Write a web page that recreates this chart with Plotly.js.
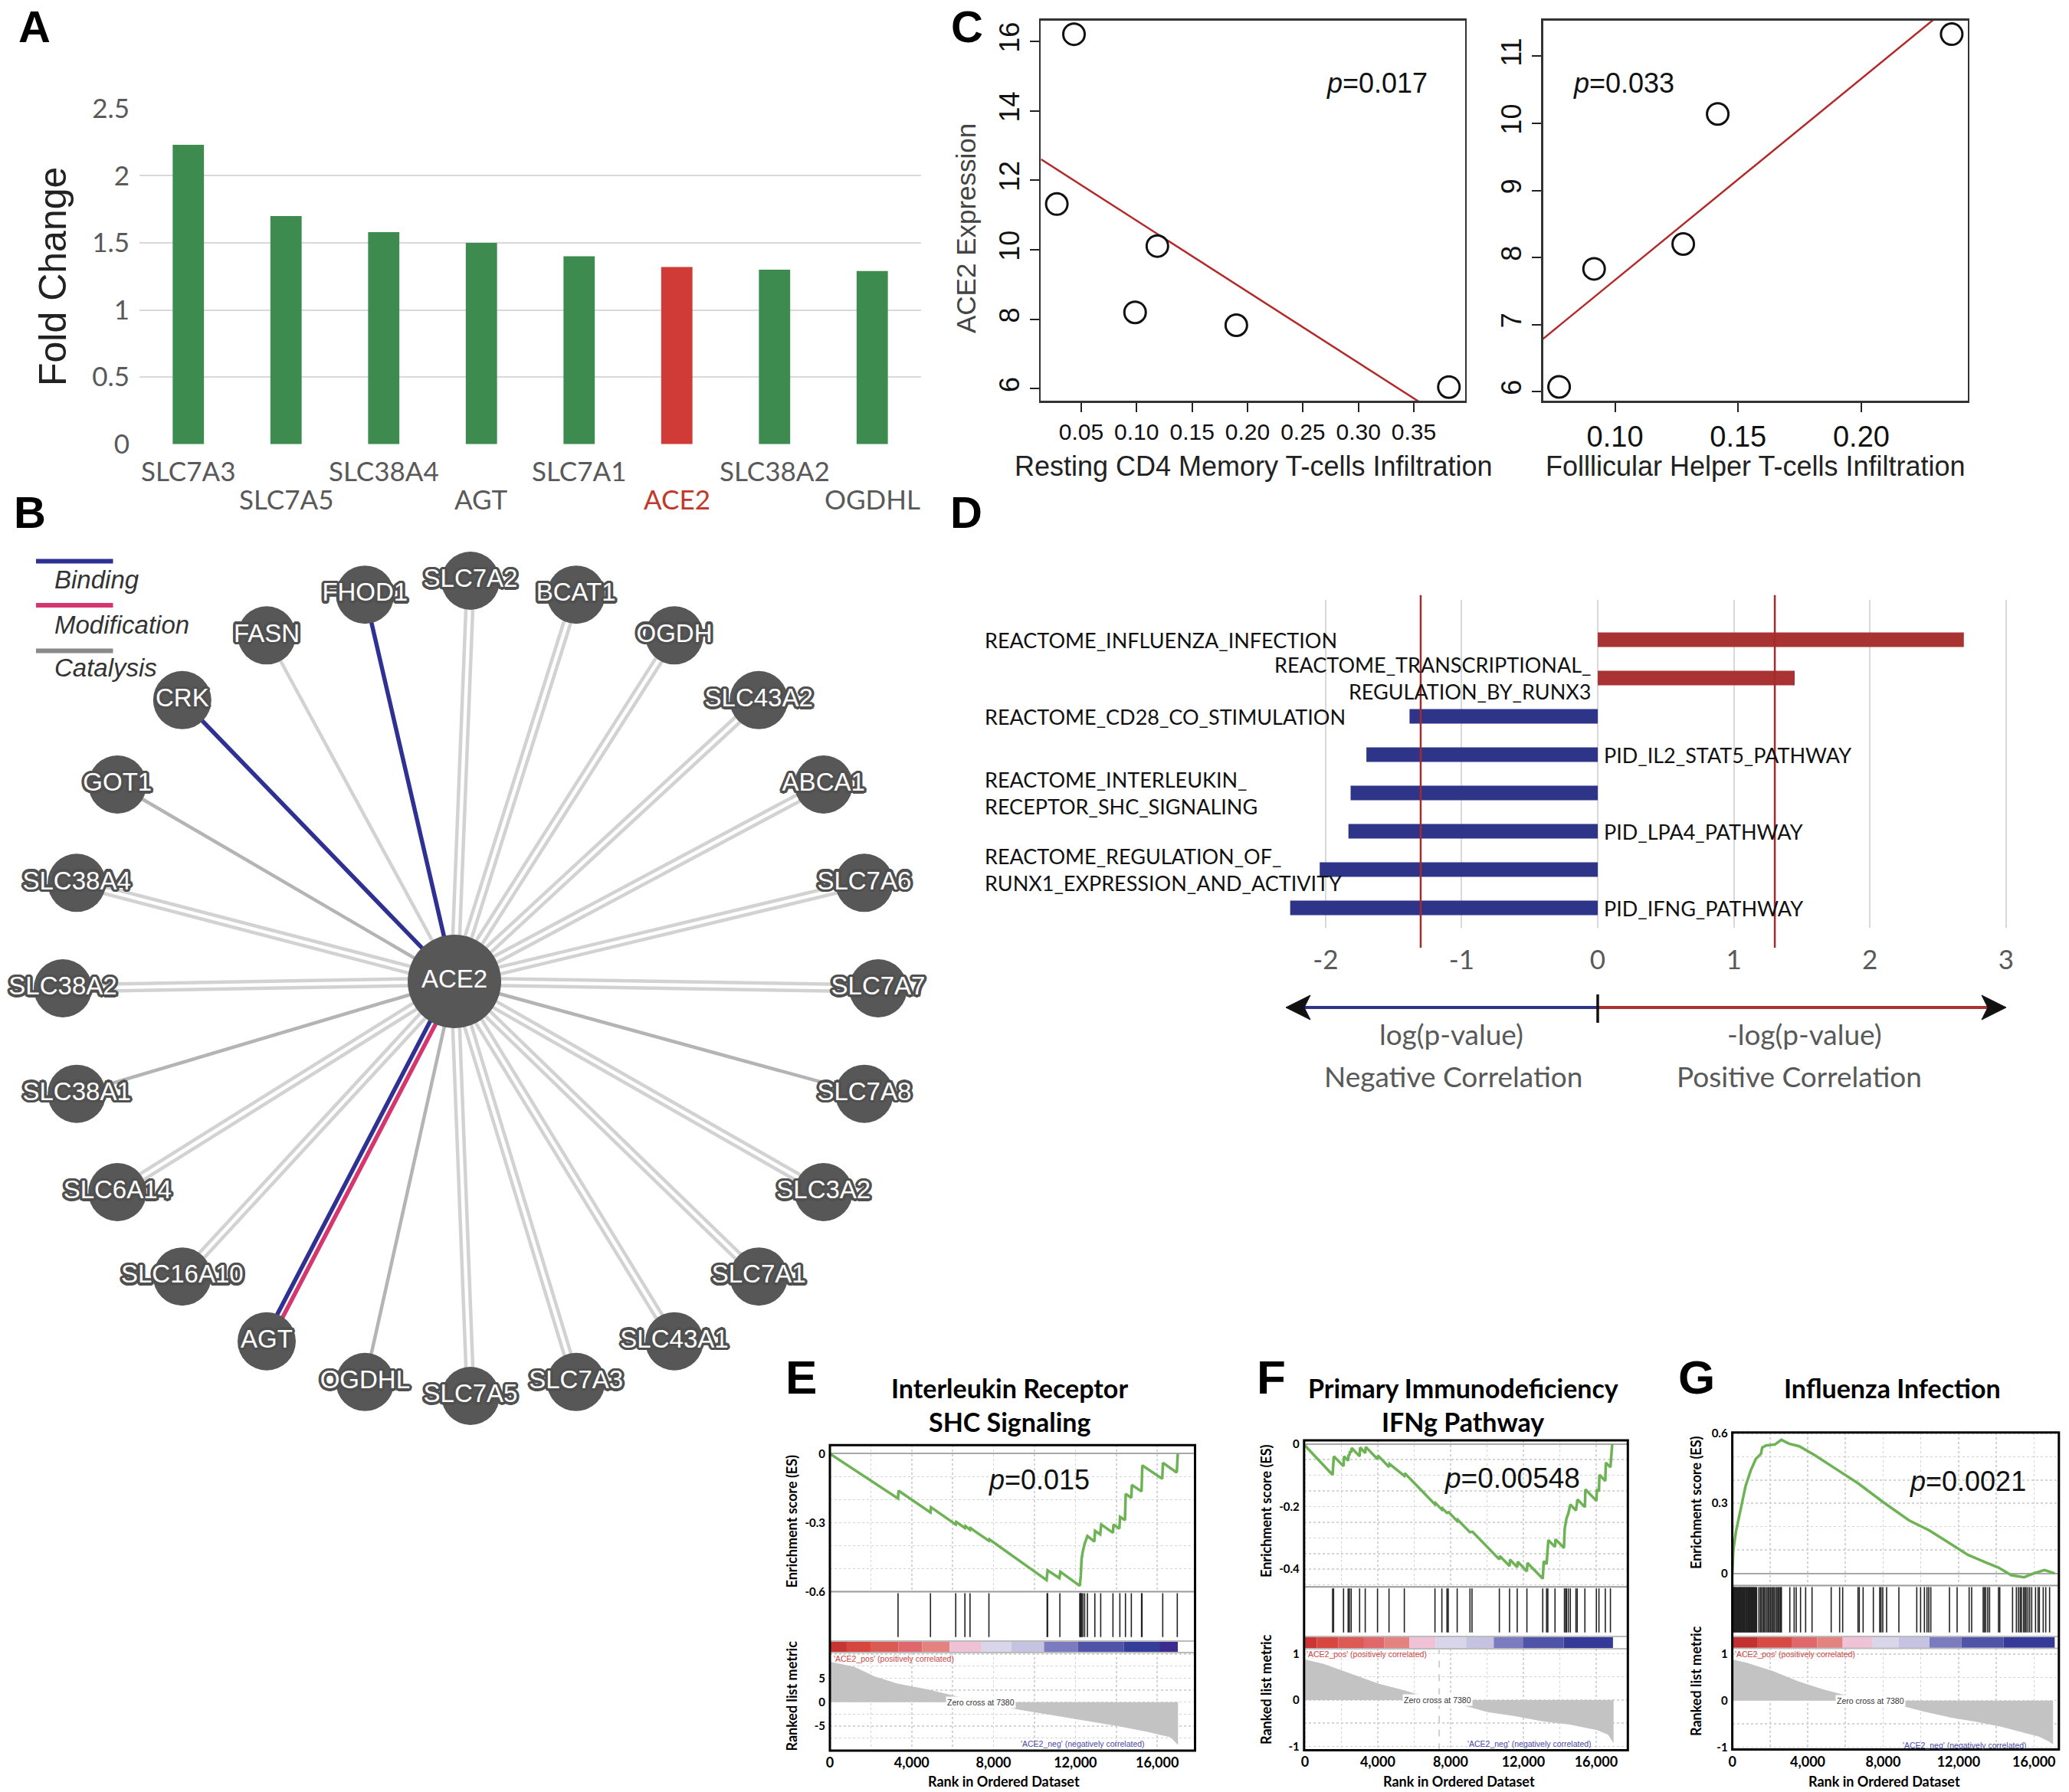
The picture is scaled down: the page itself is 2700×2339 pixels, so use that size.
<!DOCTYPE html>
<html><head><meta charset="utf-8">
<script src="https://cdn.plot.ly/plotly-3.0.1.min.js"></script>
<style>html,body{margin:0;padding:0;background:#fff;}#fig{width:2700px;height:2339px;}</style>
</head><body><div id="fig"></div>
<script>
// ================= DATA =================
// Panel A
const genesA = ['SLC7A3','SLC7A5','SLC38A4','AGT','SLC7A1','ACE2','SLC38A2','OGDHL'];
const foldChange = [2.23,1.70,1.58,1.50,1.40,1.32,1.30,1.29];
const aYTicks = [0,0.5,1,1.5,2,2.5];
const aYTickText = ['0','0.5','1','1.5','2','2.5'];

// Panel B (network)
const netHub = 'ACE2';
const netNodes = ['SLC7A7','SLC7A6','ABCA1','SLC43A2','OGDH','BCAT1','SLC7A2','FHOD1','FASN','CRK','GOT1','SLC38A4',
                  'SLC38A2','SLC38A1','SLC6A14','SLC16A10','AGT','OGDHL','SLC7A5','SLC7A3','SLC43A1','SLC7A1','SLC3A2','SLC7A8'];
// cc = two catalysis edges, c1 = one light edge, c2 = one darker edge, b = binding, bm = binding + modification
const netEdgeType = ['cc','cc','cc','cc','cc','cc','cc','b','c1','b','c2','cc',
                     'cc','c2','cc','cc','bm','c2','cc','cc','cc','cc','cc','c2'];
const netLegend = ['Binding','Modification','Catalysis'];

// Panel C
const restingCD4 = [0.0435,0.028,0.1187,0.0986,0.1899,0.3816];
const ace2ExprC1 = [16.21,11.32,10.11,8.20,7.83,6.05];
const follicularTfh = [0.0773,0.0915,0.1277,0.1417,0.2367];
const ace2ExprC2 = [6.07,7.83,8.20,10.14,11.33];
const c1XTicks = [0.05,0.10,0.15,0.20,0.25,0.30,0.35];
const c1YTicks = [6,8,10,12,14,16];
const c2XTicks = [0.10,0.15,0.20];
const c2YTicks = [6,7,8,9,10,11];
const pValC = ['0.017','0.033'];

// Panel D
const pathwayLabels = ['REACTOME_INFLUENZA_INFECTION','REACTOME_TRANSCRIPTIONAL_<br>REGULATION_BY_RUNX3',
  'REACTOME_CD28_CO_STIMULATION','PID_IL2_STAT5_PATHWAY','REACTOME_INTERLEUKIN_<br>RECEPTOR_SHC_SIGNALING',
  'PID_LPA4_PATHWAY','REACTOME_REGULATION_OF_<br>RUNX1_EXPRESSION_AND_ACTIVITY','PID_IFNG_PATHWAY'];
const logP = [2.69,1.447,-1.383,-1.70,-1.816,-1.832,-2.043,-2.26];
const dXTicks = [-2,-1,0,1,2,3];
const dXTickText = ['-2','-1','0','1','2','3'];
const pThreshold = 0.05;

// GSEA common
const zeroCross = 7380;

// Panel E
const esRankE = [0,3331,3356,4916,4941,6151,6176,6600,6625,6850,6875,7773,7798,10593,10643,11217,11266,12215,12265,12302,12364,12452,12589,12926,12963,13213,13263,13837,13862,14149,14186,14423,14460,14735,14760,15234,15271,16245,16282,16956,17006];
const esValE = [0,-0.195,-0.161,-0.256,-0.233,-0.308,-0.297,-0.323,-0.315,-0.331,-0.324,-0.379,-0.373,-0.550,-0.508,-0.541,-0.514,-0.575,-0.530,-0.458,-0.425,-0.392,-0.358,-0.382,-0.336,-0.351,-0.308,-0.344,-0.308,-0.326,-0.275,-0.289,-0.175,-0.192,-0.136,-0.164,-0.051,-0.109,-0.040,-0.082,0];
const hitsE = [3331,4916,6151,6600,6850,7773,10618,10643,11242,12215,12240,12265,12302,12364,12452,12589,12951,13238,13837,14174,14448,14735,15234,15259,16270,16981];
const segE = [0,823,1984,3356,4504,5852,7411,8871,10468,12115,14361,16108,17006];
const metRankE = [0,1189,2193,3338,4770,6202,7377,9067,11216,12648,14081,15513,16659,17017];
const metValE = [8.4,7.35,5.3,3.82,2.65,1.18,0,-1.47,-2.94,-4.0,-5.0,-6.18,-7.35,-8.94];

// Panel F
const esRankF = [0,1520,1590,2123,2151,2376,2404,2446,2474,2544,2572,3007,3035,3316,3344,3990,4018,4621,4649,5463,5491,7147,7175,7526,7554,7807,7905,8368,8396,9070,9210,10684,10712,11245,11273,11666,11694,12199,12227,13069,13126,13280,13378,13743,13771,14234,14276,14374,14473,14585,14894,14978,15385,15413,16016,16044,16157,16185,16507,16536,16788,16886];
const esValF = [-0.005,-0.0986,-0.0394,-0.0710,-0.0394,-0.0532,-0.0337,-0.0370,-0.0232,-0.0272,-0.0127,-0.0394,-0.0110,-0.0289,-0.0094,-0.0483,-0.0370,-0.0735,-0.0637,-0.1019,-0.0937,-0.1927,-0.1886,-0.2097,-0.2057,-0.2203,-0.2178,-0.2462,-0.2422,-0.2819,-0.2803,-0.3687,-0.3581,-0.3898,-0.3695,-0.3938,-0.3760,-0.4068,-0.3800,-0.4303,-0.3744,-0.3841,-0.3070,-0.3289,-0.3046,-0.3322,-0.2705,-0.2381,-0.2219,-0.1935,-0.2122,-0.1773,-0.2016,-0.1448,-0.1813,-0.1448,-0.1513,-0.0986,-0.1181,-0.0597,-0.0743,0];
const hitsF = [1520,1576,2123,2376,2446,2544,3007,3316,3990,4621,5463,7147,7526,7807,7877,8368,9070,9182,10684,11245,11666,12199,13069,13280,13350,13743,14262,14332,14374,14473,14585,14894,14964,15385,16016,16157,16507,16788];
const segF = [0,650,1843,3246,4369,5744,7175,8859,10375,11975,14220,16928];
const metRankF = [0,1023,2526,4030,5534,6286,7383,8541,10045,11549,13053,14556,16060,16662,16962];
const metValF = [0.875,0.78,0.57,0.355,0.2,0.11,0,-0.10,-0.26,-0.35,-0.46,-0.53,-0.65,-0.75,-0.93];

// Panel G
const esRankG = [0,57,192,368,504,707,978,1249,1520,1588,1791,2265,2604,3010,3552,4365,5313,6668,8022,9377,10461,11409,12493,13441,14118,14796,15473,16015,16557,17099];
const esValG = [0,0.1015,0.178,0.244,0.2875,0.375,0.4407,0.490,0.5118,0.539,0.548,0.552,0.572,0.5555,0.5446,0.5063,0.457,0.386,0.304,0.227,0.1836,0.134,0.0797,0.0468,0.025,-0.0079,-0.0166,0.0009,0.014,0];
const hitsG = [30,62,95,118,150,190,232,280,330,362,401,436,470,512,560,601,634,668,715,757,795,840,884,921,960,1002,1041,1090,1125,1163,1210,1251,1290,1412,1493,1547,1628,1682,1750,1832,1899,1967,2035,2103,2170,2224,2306,2374,2441,2495,2563,2604,3051,3281,3390,3620,3890,4229,5245,5693,5855,6668,6735,6939,7481,7819,7887,7982,8185,8835,9784,9987,10190,10326,10421,10529,11518,11924,12561,12696,13306,13373,13441,13549,13645,14119,14186,14864,15067,15175,15270,15338,15446,15514,15582,15677,15772,15880,16083,16219,16287,16490,16625,16828];
const segG = [0,1317,3146,4500,5855,7413,8835,10461,12154,14390,17099];
const metRankG = [0,768,2116,3464,4812,6160,7373,8856,10204,11552,12900,14248,15596,16270,16810,17012];
const metValG = [0.88,0.81,0.64,0.42,0.24,0.10,0,-0.10,-0.24,-0.36,-0.45,-0.56,-0.70,-0.77,-0.88,-0.94];

// ================= STYLES =================
const segColE = ['#c63434','#d6463f','#dc5a54','#e0686c','#e4827f','#efc1d4','#d9d6ec','#c5c2e2','#7a7cbf','#5054a8','#353d9b','#3b2b8e'];
const segColF = ['#cc3535','#d84640','#dc5a55','#e0686b','#e4827f','#f0c2d5','#d9d6ec','#c5c2e2','#7a7cbf','#5054a8','#353a98'];
const segColG = ['#c43030','#d84a44','#e0686a','#e48280','#f0c2d5','#d9d6ec','#c5c2e2','#7a7cbf','#5054a8','#353a98'];

const W = 2700, H = 2339;
const px = v => v / W;
const py = v => 1 - v / H;
const domX = (a, b) => [a / W, b / W];
const domY = (top, bot) => [1 - bot / H, 1 - top / H];
const F_ARIAL = 'Liberation Sans, Arial, Helvetica, sans-serif';
const F_LATO = 'Lato, Open Sans, sans-serif';

const traces = [], annotations = [], shapes = [];
const layout = {width: W, height: H, margin: {l:0, r:0, t:0, b:0}, paper_bgcolor: '#fff', plot_bgcolor: 'rgba(0,0,0,0)',
  showlegend: false, hovermode: false, annotations, shapes};
let nAx = 0;
function addAxes(xa, ya) {
  nAx++; const s = nAx === 1 ? '' : String(nAx);
  xa.anchor = 'y' + s; ya.anchor = 'x' + s;
  layout['xaxis' + s] = xa; layout['yaxis' + s] = ya;
  return {x: 'x' + s, y: 'y' + s};
}
function txt(text, x, y, font, opts) {
  annotations.push(Object.assign({text, x: px(x), y: py(y), xref: 'paper', yref: 'paper', showarrow: false,
    xanchor: 'center', yanchor: 'middle', font}, opts || {}));
}
function pline(x0, y0, x1, y1, color, width, dash) {
  shapes.push({type: 'line', xref: 'paper', yref: 'paper', x0: px(x0), y0: py(y0), x1: px(x1), y1: py(y1),
    line: {color, width, dash: dash || 'solid'}});
}
function ppath(pts, color) {
  shapes.push({type: 'path', xref: 'paper', yref: 'paper',
    path: 'M ' + pts.map(p => px(p[0]) + ',' + py(p[1])).join(' L ') + ' Z', fillcolor: color, line: {color, width: 1}});
}
const letterFont = {family: F_ARIAL, size: 58, color: '#000', weight: 700};

// ================= PANEL A =================
txt('A', 45, 34, letterFont);
const axA = addAxes(
  {domain: domX(182, 1202), type: 'category', range: [-0.5, 7.5], showticklabels: false, showgrid: false, zeroline: false, showline: false, fixedrange: true},
  {domain: domY(141.8, 579.8), range: [0, 2.5], tickvals: aYTicks, ticktext: aYTickText, showgrid: true, gridcolor: '#d9d9d9', gridwidth: 2,
   zeroline: false, ticks: '', showline: false, tickfont: {family: F_LATO, size: 35, color: '#595959'}, ticklabelstandoff: 12, fixedrange: true});
traces.push({type: 'bar', x: genesA, y: foldChange, xaxis: axA.x, yaxis: axA.y, width: 0.32,
  marker: {color: genesA.map(g => g === netHub ? '#d13b37' : '#3e8b50'), line: {width: 0}}});
genesA.forEach((g, i) => annotations.push({text: g, x: g, y: py(i % 2 === 0 ? 613.6 : 650.5), xref: axA.x, yref: 'paper',
  showarrow: false, xanchor: 'center', yanchor: 'middle', font: {family: F_LATO, size: 35, color: g === netHub ? '#c0392b' : '#595959'}}));
txt('Fold Change', 69, 361, {family: F_ARIAL, size: 50, color: '#222'}, {textangle: -90});

// ================= PANEL B =================
txt('B', 39, 668, letterFont);
const axB = addAxes({domain: domX(0, 1230), range: [0, 1230], visible: false, fixedrange: true},
                    {domain: domY(700, 1880), range: [1880, 700], visible: false, fixedrange: true});
const ringCx = 614, ringCy = 1290, ringR = 532, hubX = 593, hubY = 1281;
const nodePos = netNodes.map((n, i) => {
  const a = i * 2 * Math.PI / netNodes.length;
  return [ringCx + ringR * Math.cos(a), ringCy - ringR * Math.sin(a)];
});
const edgeXY = {light: {x: [], y: []}, dark: {x: [], y: []}, bind: {x: [], y: []}, mod: {x: [], y: []}};
function addEdge(style, p, off) {
  const dx = p[0] - hubX, dy = p[1] - hubY, L = Math.hypot(dx, dy);
  const nx = -dy / L, ny = dx / L, e = edgeXY[style];
  e.x.push(hubX + nx * off, p[0] + nx * off, null);
  e.y.push(hubY + ny * off, p[1] + ny * off, null);
}
netEdgeType.forEach((t, i) => {
  const p = nodePos[i];
  if (t === 'cc') { addEdge('light', p, -4.5); addEdge('light', p, 4.5); }
  else if (t === 'c1') addEdge('light', p, 0);
  else if (t === 'c2') addEdge('dark', p, 0);
  else if (t === 'b') addEdge('bind', p, 0);
  else if (t === 'bm') { addEdge('bind', p, 4); addEdge('mod', p, -4); }
});
const edgeStyle = {light: ['#d2d2d2', 4.5], dark: ['#b4b4b4', 4.5], mod: ['#d6366f', 5.5], bind: ['#2e3192', 5.5]};
['light', 'dark', 'mod', 'bind'].forEach(k => traces.push({type: 'scatter', mode: 'lines', x: edgeXY[k].x, y: edgeXY[k].y,
  xaxis: axB.x, yaxis: axB.y, line: {color: edgeStyle[k][0], width: edgeStyle[k][1]}}));
const halo = '#505050';
const offs = [];
for (let k = 0; k < 16; k++) { const a = k * Math.PI / 8; offs.push([Math.round(3.5 * Math.cos(a) * 10) / 10, Math.round(3.5 * Math.sin(a) * 10) / 10]); }
const shadowStr = offs.map(o => o[0] + 'px ' + o[1] + 'px 0 ' + halo).join(', ');
// hub node (no halo on label)
traces.push({type: 'scatter', mode: 'markers+text', xaxis: axB.x, yaxis: axB.y, x: [hubX], y: [hubY], text: [netHub],
  textposition: 'middle center', cliponaxis: false, textfont: {family: F_ARIAL, size: 33, color: '#ffffff'},
  marker: {size: 122, color: '#575757', opacity: 1, line: {width: 0}}});
// ring nodes
traces.push({type: 'scatter', mode: 'markers+text', xaxis: axB.x, yaxis: axB.y,
  x: nodePos.map(p => p[0]), y: nodePos.map(p => p[1]),
  text: netNodes, textposition: 'middle center', cliponaxis: false,
  textfont: {family: F_ARIAL, size: 33, color: '#ffffff', shadow: shadowStr},
  marker: {size: 76, color: '#575757', opacity: 1, line: {width: 0}}});
// legend
const legColors = ['#2e3192', '#d6366f', '#8a8a8a'];
const legLineY = [732.5, 790, 849.6], legTextY = [756, 815.6, 871.7];
netLegend.forEach((l, i) => {
  pline(47, legLineY[i], 147.5, legLineY[i], legColors[i], 6);
  txt(l, 69, legTextY[i], {family: F_ARIAL, size: 33, color: '#333', style: 'italic'}, {xanchor: 'left'});
});

// ================= PANEL C =================
txt('C', 1262, 35, letterFont);
function linfit(x, y) {
  const n = x.length, mx = x.reduce((a, b) => a + b) / n, my = y.reduce((a, b) => a + b) / n;
  let sxy = 0, sxx = 0;
  x.forEach((v, i) => { sxy += (v - mx) * (y[i] - my); sxx += (v - mx) * (v - mx); });
  const b = sxy / sxx; return {a: my - b * mx, b};
}
function cAxes(xd, xr, xt, xfs, yr, yt) {
  const common = {ticks: 'outside', ticklen: 12, tickwidth: 2, tickcolor: '#222', showline: true, mirror: true,
    linecolor: '#333', linewidth: 2.5, showgrid: false, zeroline: false, fixedrange: true};
  return addAxes(Object.assign({domain: domX(xd[0], xd[1]), range: xr, tickvals: xt, tickformat: '.2f',
      tickfont: {family: F_ARIAL, size: xfs, color: '#111'}}, common),
    Object.assign({domain: domY(26.5, 523.3), range: yr, tickvals: yt, tickangle: -90,
      tickfont: {family: F_ARIAL, size: 36, color: '#111'}}, common));
}
function cPlot(ax, xs, ys, xr) {
  const f = linfit(xs, ys);
  traces.push({type: 'scatter', mode: 'lines', x: xr, y: xr.map(v => f.a + f.b * v), xaxis: ax.x, yaxis: ax.y,
    line: {color: '#b22a2a', width: 2.5}});
  traces.push({type: 'scatter', mode: 'markers', x: xs, y: ys, xaxis: ax.x, yaxis: ax.y, cliponaxis: false,
    marker: {symbol: 'circle-open', size: 28, color: '#111', line: {width: 3, color: '#111'}}});
}
const c1XR = [0.0137, 0.396], c2XR = [0.0708, 0.2432];
const axC1 = cAxes([1358.4, 1911.6], c1XR, c1XTicks, 30, [5.65, 16.61], c1YTicks);
const axC2 = cAxes([2013.7, 2567.8], c2XR, c2XTicks, 38, [5.86, 11.537], c2YTicks);
cPlot(axC1, restingCD4, ace2ExprC1, c1XR);
cPlot(axC2, follicularTfh, ace2ExprC2, c2XR);
txt('ACE2 Expression', 1260, 298, {family: F_ARIAL, size: 35, color: '#444'}, {textangle: -90});
txt('Resting CD4 Memory T-cells Infiltration', 1636, 608, {family: F_ARIAL, size: 36, color: '#222'});
txt('Folllicular Helper T-cells Infiltration', 2291, 608, {family: F_ARIAL, size: 36, color: '#222'});
txt('<i>p</i>=' + pValC[0], 1797, 108, {family: F_ARIAL, size: 36, color: '#111'});
txt('<i>p</i>=' + pValC[1], 2119, 108, {family: F_ARIAL, size: 36, color: '#111'});

// ================= PANEL D =================
txt('D', 1261, 668, letterFont);
const axD = addAxes(
  {domain: domX(1658.8, 2626.7), range: [-2.4, 3.05], tickvals: dXTicks, ticktext: dXTickText, showgrid: true, gridcolor: '#d9d9d9',
   gridwidth: 2, zeroline: false, ticks: '', showline: false, tickfont: {family: F_LATO, size: 35, color: '#595959'}, ticklabelstandoff: 18, fixedrange: true},
  {domain: domY(783, 1211), range: [7.52, -1.04], visible: false, fixedrange: true});
traces.push({type: 'bar', orientation: 'h', x: logP, y: logP.map((_, i) => i), xaxis: axD.x, yaxis: axD.y, width: 0.38,
  marker: {color: logP.map(v => v > 0 ? '#a93333' : '#2e3588'), line: {width: 0}}});
const thr = -Math.log10(pThreshold);
[-thr, thr].forEach(t => shapes.push({type: 'line', xref: axD.x, yref: 'paper', x0: t, x1: t, y0: py(1237), y1: py(776.7),
  line: {color: '#a52a2a', width: 2.5}}));
pathwayLabels.forEach((l, i) => {
  const pid = l.startsWith('PID');
  let x, anchor;
  if (pid) { x = px(2090.6); anchor = 'left'; }
  else if (logP[i] > 0 && i > 0) { x = px(2078); anchor = 'right'; }
  else { x = px(1283); anchor = 'left'; }
  annotations.push({text: l, x, y: i, xref: 'paper', yref: axD.y, showarrow: false, xanchor: anchor, align: anchor,
    yanchor: 'middle', font: {family: F_LATO, size: 27, color: '#111'}});
});
pline(1700, 1315, 2085, 1315, '#2e3588', 4);
pline(2085, 1315, 2600, 1315, '#a93333', 4);
pline(2085, 1298, 2085, 1335, '#111', 3.5);
ppath([[1678, 1315], [1710, 1299], [1702, 1315], [1710, 1331]], '#111');
ppath([[2618, 1315], [2586, 1299], [2594, 1315], [2586, 1331]], '#111');
const dFont = {family: F_LATO, size: 37, color: '#595959'};
txt('log(p-value)', 1894, 1349, dFont);
txt('-log(p-value)', 2355, 1349, dFont);
txt('Negative Correlation', 1896, 1404, dFont);
txt('Positive Correlation', 2348, 1404, dFont);

// ================= GSEA PANELS =================
const gridCol = '#d4d4d4';
function gseaPanel(c) {
  const b = c.box;
  const mkX = (grid, labels) => {
    const o = {domain: domX(b.x0, b.x1), range: c.xRange, zeroline: false, showline: false, ticks: '', fixedrange: true,
      tick0: 0, dtick: 4000, showticklabels: labels, showgrid: grid};
    if (grid) { o.gridcolor = gridCol; o.griddash = 'dot'; o.gridwidth = 1.5;
      o.minor = {tickmode: 'linear', tick0: 0, dtick: 2000, showgrid: true, gridcolor: gridCol, griddash: 'dot', gridwidth: 1.5}; }
    if (labels) { o.tickformat = ',d'; o.tickfont = {family: F_LATO, size: 18, color: '#000', weight: 700}; o.ticklabelstandoff = 3; }
    return o;
  };
  const yFont = {family: F_LATO, size: 15, color: '#000', weight: 700};
  const es = addAxes(mkX(true, false), {domain: domY(b.top, b.esBot), range: c.esRange, tickvals: c.esTicks, ticktext: c.esTickText,
    ticks: '', showgrid: true, gridcolor: gridCol, griddash: 'dot', gridwidth: 1.5,
    minor: {tickmode: 'linear', tick0: 0, dtick: c.esMinor, showgrid: true, gridcolor: gridCol, griddash: 'dot', gridwidth: 1.5},
    zeroline: true, zerolinecolor: '#a8a8a8', zerolinewidth: 2, tickfont: yFont, ticklabelstandoff: 5, fixedrange: true});
  const ht = addAxes(mkX(false, false), {domain: domY(b.esBot, b.cbTop), range: [0, 1], visible: false, fixedrange: true});
  const cb = addAxes(mkX(false, false), {domain: domY(b.cbTop, b.cbBot), range: [0, 1], visible: false, fixedrange: true});
  const mt = addAxes(mkX(true, true), {domain: domY(b.cbBot, b.bot), range: c.metRange, tickvals: c.metTicks, ticktext: c.metTickText,
    ticks: '', showgrid: true, gridcolor: gridCol, griddash: 'dot', gridwidth: 1.5,
    minor: {tickmode: 'linear', tick0: 0, dtick: c.metMinor, showgrid: true, gridcolor: gridCol, griddash: 'dot', gridwidth: 1.5},
    zeroline: false, tickfont: yFont, ticklabelstandoff: 5, fixedrange: true});
  traces.push({type: 'scatter', mode: 'lines', x: c.metRank, y: c.metVal, xaxis: mt.x, yaxis: mt.y, fill: 'tozeroy',
    fillcolor: '#c3c3c3', line: {width: 0, color: '#c3c3c3'}});
  const centers = [], widths = [];
  for (let i = 0; i < c.seg.length - 1; i++) { centers.push((c.seg[i] + c.seg[i + 1]) / 2); widths.push(c.seg[i + 1] - c.seg[i]); }
  traces.push({type: 'bar', x: centers, y: centers.map(() => 1), width: widths, xaxis: cb.x, yaxis: cb.y,
    marker: {color: c.segCol, line: {width: 0}}});
  const hx = [], hy = [];
  c.hits.forEach(h => { hx.push(h, h, null); hy.push(0.08, 0.97, null); });
  traces.push({type: 'scatter', mode: 'lines', x: hx, y: hy, xaxis: ht.x, yaxis: ht.y, line: {color: '#222', width: 1.6}});
  traces.push({type: 'scatter', mode: 'lines', x: c.esRank, y: c.esVal, xaxis: es.x, yaxis: es.y, line: {color: '#6db355', width: 3.5}});
  pline(b.x0, b.esBot, b.x1, b.esBot, '#999', 2);
  pline(b.x0, b.cbTop, b.x1, b.cbTop, '#bbb', 2);
  pline(b.x0, b.cbBot, b.x1, b.cbBot, '#bbb', 2);
  if (c.zeroDash) shapes.push({type: 'line', xref: mt.x, yref: 'paper', x0: zeroCross, x1: zeroCross, y0: py(b.bot), y1: py(b.cbBot),
    line: {color: '#cfcfcf', width: 2, dash: 'dash'}});
  shapes.push({type: 'rect', xref: 'paper', yref: 'paper', x0: px(b.x0), x1: px(b.x1), y0: py(b.bot), y1: py(b.top),
    line: {color: '#000', width: 3}, fillcolor: 'rgba(0,0,0,0)'});
  txt(c.letter, c.letterX, 1797, {family: F_ARIAL, size: 62, color: '#000', weight: 700});
  c.title.forEach((t, i) => txt(t, c.titleX, [1811.7, 1855.3][i], {family: F_LATO, size: 34, color: '#000', weight: 700}));
  txt('<i>p</i>=' + c.pval, c.pX, c.pY, {family: F_ARIAL, size: c.pSize, color: '#111'});
  const axTitleFont = {family: F_LATO, size: 18, color: '#000', weight: 700};
  txt('Enrichment score (ES)', c.yTitleX, c.esTitleY, axTitleFont, {textangle: -90});
  txt('Ranked list metric', c.yTitleX, c.metTitleY, axTitleFont, {textangle: -90});
  txt('Rank in Ordered Dataset', c.xTitleX, 2325, axTitleFont);
  txt("'ACE2_pos' (positively correlated)", c.posLab[0], c.posLab[1], {family: F_ARIAL, size: 10.5, color: '#d04545'}, {xanchor: 'left'});
  txt('Zero cross at ' + zeroCross, c.zeroLab[0], c.zeroLab[1], {family: F_ARIAL, size: 10.5, color: '#333'}, {bgcolor: '#ffffff'});
  txt("'ACE2_neg' (negatively correlated)", c.negLab[0], c.negLab[1], {family: F_ARIAL, size: 10.5, color: '#4a4aa8'});
}

gseaPanel({box: {x0: 1083, x1: 1559.5, top: 1886.3, esBot: 2077.6, cbTop: 2142, cbBot: 2157, bot: 2285},
  xRange: [0, 17849], esRange: [-0.6005, 0.037], esTicks: [0, -0.3, -0.6], esTickText: ['0', '-0.3', '-0.6'], esMinor: 0.1,
  metRange: [-10.1, 10.3], metTicks: [5, 0, -5], metTickText: ['5', '0', '-5'], metMinor: 2.5,
  esRank: esRankE, esVal: esValE, hits: hitsE, seg: segE, segCol: segColE, metRank: metRankE, metVal: metValE,
  letter: 'E', letterX: 1045, title: ['Interleukin Receptor', 'SHC Signaling'], titleX: 1317.6,
  pval: '0.015', pX: 1356, pY: 1931.7, pSize: 36, yTitleX: 1032.5, esTitleY: 1986, metTitleY: 2214, xTitleX: 1310,
  posLab: [1086, 2165], zeroLab: [1280, 2221.6], negLab: [1413, 2276], zeroDash: false});

gseaPanel({box: {x0: 1701.8, x1: 2124.3, top: 1880, esBot: 2071.3, cbTop: 2136, cbBot: 2152, bot: 2284.4},
  xRange: [-45, 17745], esRange: [-0.4566, 0.0117], esTicks: [0, -0.2, -0.4], esTickText: ['0', '-0.2', '-0.4'], esMinor: 0.05,
  metRange: [-1.083, 1.107], metTicks: [1, 0, -1], metTickText: ['1', '0', '-1'], metMinor: 0.5,
  esRank: esRankF, esVal: esValF, hits: hitsF, seg: segF, segCol: segColF, metRank: metRankF, metVal: metValF,
  letter: 'F', letterX: 1659, title: ['Primary Immunodeficiency', 'IFNg Pathway'], titleX: 1909,
  pval: '0.00548', pX: 1973.6, pY: 1929.9, pSize: 37, yTitleX: 1652, esTitleY: 1972, metTitleY: 2205, xTitleX: 1904,
  posLab: [1703, 2158.8], zeroLab: [1876, 2219], negLab: [1996, 2276], zeroDash: true});

gseaPanel({box: {x0: 2260.6, x1: 2686.8, top: 1869.7, esBot: 2069.5, cbTop: 2136, cbBot: 2151.4, bot: 2283.6},
  xRange: [0, 17321], esRange: [-0.052, 0.6036], esTicks: [0.6, 0.3, 0], esTickText: ['0.6', '0.3', '0'], esMinor: 0.1,
  metRange: [-1.048, 1.121], metTicks: [1, 0, -1], metTickText: ['1', '0', '-1'], metMinor: 0.5,
  esRank: esRankG, esVal: esValG, hits: hitsG, seg: segG, segCol: segColG, metRank: metRankG, metVal: metValG,
  letter: 'G', letterX: 2214, title: ['Influenza Infection'], titleX: 2469.6,
  pval: '0.0021', pX: 2568, pY: 1933.6, pSize: 36, yTitleX: 2213, esTitleY: 1961, metTitleY: 2194, xTitleX: 2458.6,
  posLab: [2262, 2158.8], zeroLab: [2441, 2219.7], negLab: [2564, 2278], zeroDash: false});

Plotly.newPlot('fig', traces, layout, {staticPlot: true, displayModeBar: false});
</script>
</body></html>
